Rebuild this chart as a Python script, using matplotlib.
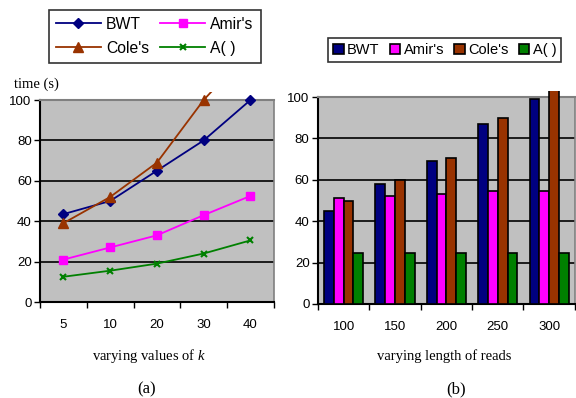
import matplotlib
matplotlib.use('Agg')
import matplotlib.pyplot as plt
import numpy as np
from matplotlib.patches import Rectangle

plt.rcParams['font.family'] = ['Liberation Sans', 'DejaVu Sans']
plt.rcParams['mathtext.fontset'] = 'custom'
plt.rcParams['mathtext.it'] = 'Liberation Serif:italic'
plt.rcParams['mathtext.rm'] = 'Liberation Serif'

# data
k_labels = ['5', '10', '20', '30', '40']
bwt_k = [43.5, 50, 65, 80, 100]
amir_k = [21, 27, 33, 43, 52.5]
cole_k = [39, 52, 69, 100, 125]
a_k = [12.5, 15.5, 19, 24, 30.5]

read_labels = ['100', '150', '200', '250', '300']
bwt_r = [45, 58, 69, 87, 99]
amir_r = [51, 52, 53, 54.5, 54.5]
cole_r = [50, 60, 70.5, 90, 110]
a_r = [24.5, 24.5, 24.5, 24.5, 24.5]

names = ['BWT', "Amir's", "Cole's", 'A( )']
colors = ['#000080', '#FF00FF', '#993300', '#008000']
SERIF = ['Liberation Serif', 'DejaVu Serif']
PLOT_BG = '#C0C0C0'

fig = plt.figure(figsize=(5.76, 3.98), dpi=100)
ax1 = fig.add_axes([0.0694, 0.2412, 0.406, 0.5075])
ax2 = fig.add_axes([0.552, 0.2362, 0.446, 0.520])


def style_axes(ax, labels):
    ax.set_facecolor(PLOT_BG)
    ax.set_ylim(0, 100)
    ax.set_xlim(-0.5, len(labels) - 0.5)
    ax.set_yticks([0, 20, 40, 60, 80, 100])
    ax.set_xticks(range(len(labels)))
    ax.set_xticklabels(labels)
    ax.set_xticks(np.arange(-0.5, len(labels)), minor=True)
    ax.tick_params(axis='x', which='major', length=0, pad=12, labelsize=9.5)
    ax.tick_params(axis='x', which='minor', length=4, width=1, direction='out')
    ax.tick_params(axis='y', length=4, width=1, direction='out', labelsize=9.5, pad=2)
    for y in [20, 40, 60, 80]:
        ax.axhline(y, color='black', lw=1.2, zorder=1)
    ax.spines['left'].set_color('black')
    ax.spines['bottom'].set_color('black')
    ax.spines['left'].set_linewidth(1.5)
    ax.spines['bottom'].set_linewidth(1.5)
    ax.spines['top'].set_color('#808080')
    ax.spines['right'].set_color('#808080')
    ax.spines['top'].set_linewidth(1.5)
    ax.spines['right'].set_linewidth(1.2)


# (a) line chart
style_axes(ax1, k_labels)
x = np.arange(len(k_labels))
specs = [(bwt_k, 'D', 5), (amir_k, 's', 6), (cole_k, '^', 7), (a_k, 'x', 4)]
handles = []
for (vals, mk, ms), c, n in zip(specs, colors, names):
    ln, = ax1.plot(x, vals, color=c, marker=mk, ms=ms, lw=1.3, mew=1.5 if mk == 'x' else 1,
                   label=n, zorder=3)
    ln.set_clip_path(Rectangle((0, 0), 1, 1.04, transform=ax1.transAxes))
    handles.append(ln)
order = [0, 2, 1, 3]
leg1 = ax1.legend([handles[i] for i in order], [names[i] for i in order], ncol=2,
                  loc='lower center', bbox_to_anchor=(0.49, 1.183), fontsize=11.3,
                  frameon=True, fancybox=False, edgecolor='black', handlelength=2.9,
                  handletextpad=0.3, columnspacing=0.7, borderpad=0.45, labelspacing=0.6,
                  borderaxespad=0)
leg1.get_frame().set_linewidth(1.2)

fig.text(0.024, 0.789, 'time (s)', fontsize=10.5, family=SERIF, ha='left', va='center')
fig.text(0.259, 0.1055, 'varying values of $k$', fontsize=10.5, family=SERIF,
         ha='center', va='center')
fig.text(0.255, 0.022, '(a)', fontsize=12, family=SERIF, ha='center', va='center')

# (b) grouped bars
style_axes(ax2, read_labels)
w = 0.19
series = [bwt_r, amir_r, cole_r, a_r]
for j, (vals, c, n) in enumerate(zip(series, colors, names)):
    bars = ax2.bar(x + (j - 1.5) * w, vals, width=w, color=c, edgecolor='black',
                   lw=1.2, label=n, zorder=3)
    for b in bars:
        b.set_clip_path(Rectangle((0, 0), 1, 1.03, transform=ax2.transAxes))
leg2 = ax2.legend(ncol=4, loc='lower center', bbox_to_anchor=(0.494, 1.169), fontsize=10.5,
                  frameon=True, fancybox=False, edgecolor='black', handlelength=0.7,
                  handleheight=0.7, handletextpad=0.25, columnspacing=0.7, borderpad=0.35,
                  borderaxespad=0)
leg2.get_frame().set_linewidth(1.2)
fig.text(0.771, 0.1055, 'varying length of reads', fontsize=10.5, family=SERIF,
         ha='center', va='center')
fig.text(0.792, 0.022, '(b)', fontsize=12, family=SERIF, ha='center', va='center')

fig.savefig('out.png', dpi=100)
